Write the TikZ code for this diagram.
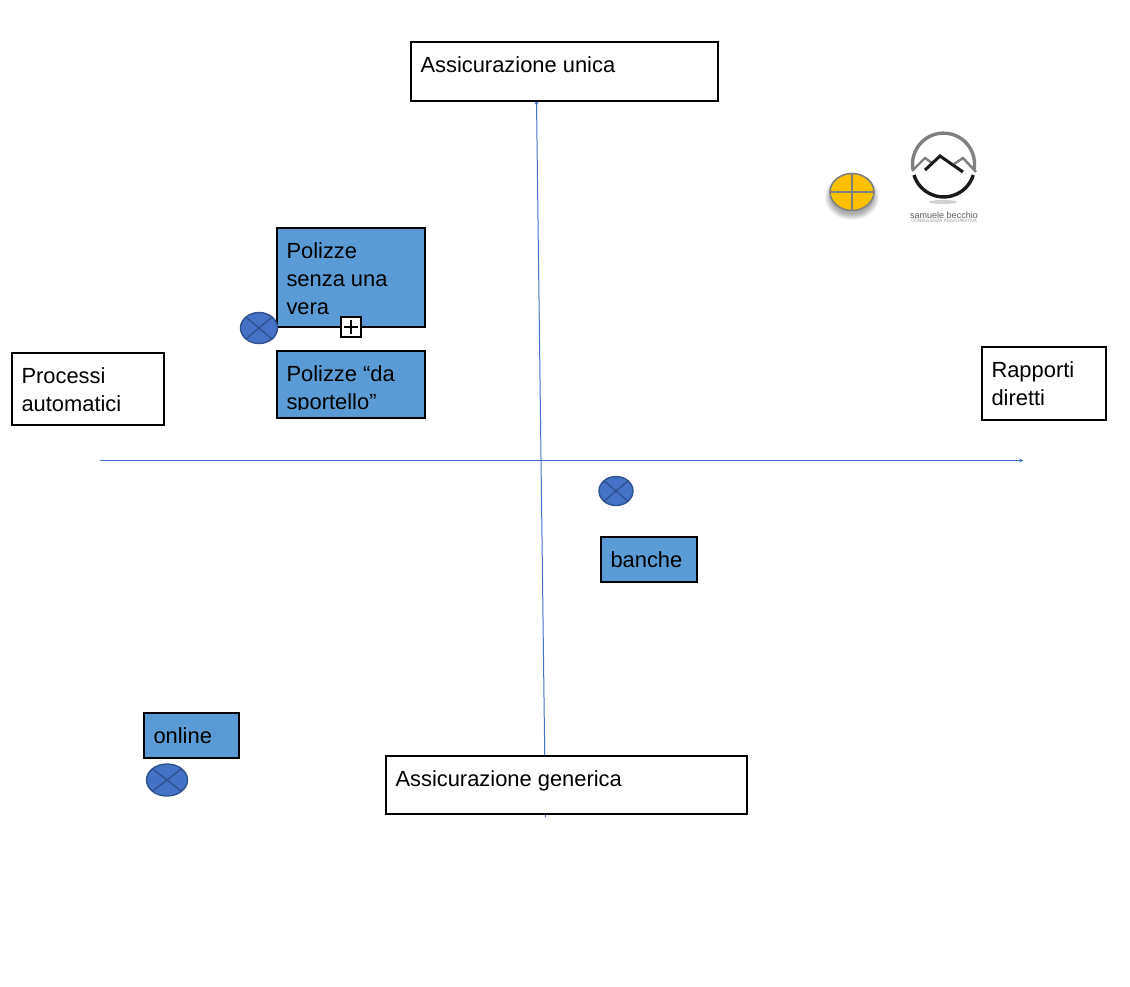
\documentclass[tikz,border=0pt]{standalone}
\usepackage{fontspec}
\setmainfont{Liberation Sans}
\usetikzlibrary{shapes.geometric,arrows.meta,calc}
\definecolor{axisblue}{HTML}{4472C4}
\definecolor{boxblue}{HTML}{5B9BD5}
\definecolor{markblue}{HTML}{4472C4}
\definecolor{markedge}{HTML}{2F528F}
\definecolor{goldfill}{HTML}{FFC000}
\definecolor{logogray}{HTML}{808080}
\definecolor{logoblack}{HTML}{1A1A1A}
\tikzset{
  x=1pt,y=-1pt,
  boxbase/.style={draw=black,line width=2pt,rectangle,inner sep=0pt,outer sep=0pt,anchor=north west},
  whitebox/.style={boxbase,fill=white},
  bluebox/.style={boxbase,fill=boxblue},
  lbl/.style={inner sep=0pt,outer sep=0pt,anchor=north west,align=left,font=\fontsize{21.9}{28}\selectfont},
  axisline/.style={draw=axisblue,line width=1pt,-{Stealth[length=4.5pt,width=4pt]}},
  xmark/.style={ellipse,draw=markedge,line width=1.4pt,fill=markblue,inner sep=0pt,outer sep=0pt},
  xstroke/.style={draw=markedge,line width=1.4pt},
  goldmark/.style={ellipse,draw=logogray,line width=1.6pt,fill=goldfill,inner sep=0pt,outer sep=0pt,minimum width=44pt,minimum height=37pt},
  plusbox/.style={draw=black,fill=white,line width=1.6pt,inner sep=0pt,outer sep=0pt,minimum width=20pt,minimum height=20pt},
}
\begin{document}
\begin{tikzpicture}
\useasboundingbox (0,0) rectangle (1130,986);
\fill[white] (0,0) rectangle (1130,986);
% axes
\coordinate (hstart) at (100,460.5);
\coordinate (hend) at (1023.5,460.5);
\coordinate (vstart) at (545.5,817);
\coordinate (vend) at (536.5,100);
\draw[axisline] (hstart) -- (hend);
\draw[axisline] (vstart) -- (vend);
% white boxes
\node[whitebox,minimum width=307pt,minimum height=59pt] (unica) at (411,42) {};
\node[lbl] at ([shift={(9.5,11)}]unica.north west) {\strut Assicurazione unica};
\node[whitebox,minimum width=361pt,minimum height=58pt] (generica) at (386,756) {};
\node[lbl] at ([shift={(9.5,11)}]generica.north west) {\strut Assicurazione generica};
\node[whitebox,minimum width=152pt,minimum height=72pt] (processi) at (12,353) {};
\node[lbl] at ([shift={(9.5,11)}]processi.north west) {\strut Processi\\\strut automatici};
\node[whitebox,minimum width=124pt,minimum height=73pt] (rapporti) at (982,347) {};
\node[lbl] at ([shift={(9.5,11)}]rapporti.north west) {\strut Rapporti\\\strut diretti};
% blue boxes
\node[bluebox,minimum width=148pt,minimum height=99pt] (senza) at (277,228) {};
\node[lbl] at ([shift={(9.5,11)}]senza.north west) {\strut Polizze\\\strut senza una\\\strut vera};
\node[bluebox,minimum width=148pt,minimum height=67pt] (sportello) at (277,351) {};
\begin{scope}
  \clip (sportello.north west) rectangle ([yshift=9pt]sportello.south east);
  \node[lbl] at ([shift={(9.5,11)}]sportello.north west) {\strut Polizze “da\\\strut sportello”};
\end{scope}
\node[bluebox,minimum width=96pt,minimum height=45pt] (banche) at (601,537) {};
\node[lbl] at ([shift={(9.5,11)}]banche.north west) {\strut banche};
\node[bluebox,minimum width=95pt,minimum height=45pt] (online) at (144,713) {};
\node[lbl] at ([shift={(9.5,11)}]online.north west) {\strut online};
% plus box
\node[plusbox] (plus) at (351,327) {};
\coordinate (pl) at ([xshift=3pt]plus.west);
\coordinate (pr) at ([xshift=-3pt]plus.east);
\coordinate (pt) at ([yshift=-3pt]plus.north);
\coordinate (pb) at ([yshift=3pt]plus.south);
\draw[line width=1.4pt] (pl) -- (pr) (pt) -- (pb);
% crossed markers
\node[xmark,minimum width=37pt,minimum height=31pt] (m1) at (259,328) {};
\node[xmark,minimum width=34pt,minimum height=29pt] (m2) at (616,491) {};
\node[xmark,minimum width=41pt,minimum height=32pt] (m3) at (167,780) {};
\foreach \m in {m1,m2,m3}{
  \draw[xstroke] (\m.north west) -- (\m.south east) (\m.north east) -- (\m.south west);
}
% gold marker with soft shadow
\foreach \i in {1,...,7}{
  \fill[black,opacity=0.05] (852,197) ellipse ({20+\i} and {16+\i});
}
\node[goldmark] (gold) at (852,192) {};
\draw[draw=logogray,line width=1.6pt] (gold.north) -- (gold.south) (gold.west) -- (gold.east);
% logo
\draw[logogray,line width=3.4pt] (913,169.5) arc[start angle=190,end angle=-10,x radius=31pt,y radius=31pt];
\draw[logoblack,line width=3.4pt] (914,175) arc[start angle=197,end angle=343,x radius=31pt,y radius=31pt];
\draw[logogray,line width=2.4pt] (912,171) -- (925,158) -- (932,163);
\draw[logogray,line width=2.4pt] (976,172) -- (963,158) -- (954,164);
\draw[logoblack,line width=3pt] (925,170) -- (940,156) -- (963,172);
\fill[logogray,opacity=0.35] (943,202) ellipse (14 and 2);
\node[inner sep=0pt,font=\fontsize{9}{9}\selectfont,text=logogray!70!black] (logoname) at (944,215) {samuele becchio};
\node[inner sep=0pt,font=\fontsize{4.6}{5}\selectfont,text=logogray!80] (logosub) at (944,221) {CONSULENZA ASSICURATIVA};
\end{tikzpicture}
\end{document}
